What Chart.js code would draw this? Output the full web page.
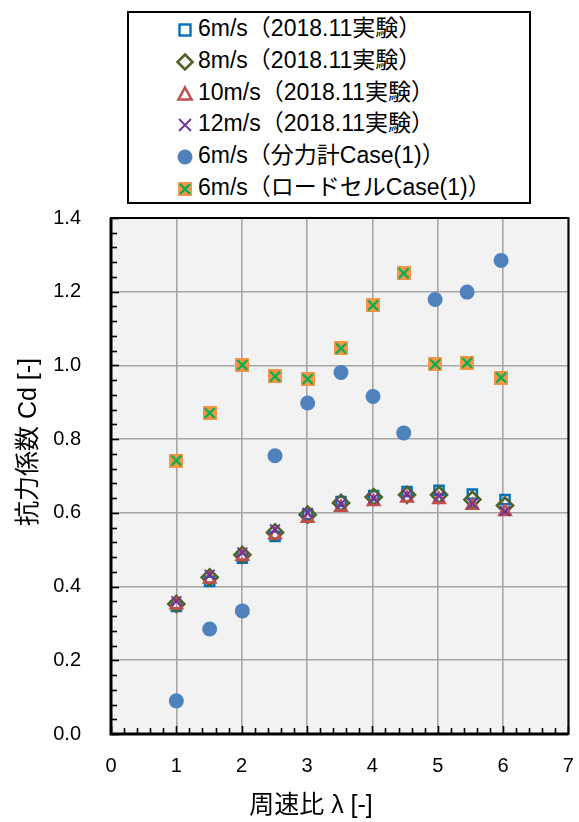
<!DOCTYPE html>
<html><head><meta charset="utf-8">
<script src="https://cdn.jsdelivr.net/npm/chart.js@4.4.1/dist/chart.umd.min.js"></script>
<style>
html,body{margin:0;padding:0;background:#fff;}
#wrap{position:relative;width:579px;height:822px;}
#c{position:absolute;left:0;top:0;}
#legend{position:absolute;left:127px;top:11px;width:400px;height:189px;border:2px solid #000;background:#fff;}
.row{position:absolute;left:0;height:30px;line-height:30px;font-family:"Liberation Sans","Noto Sans CJK JP",sans-serif;font-size:23px;color:#000;white-space:nowrap;}
.row canvas{position:absolute;left:46px;top:7px;}
.row span{position:absolute;left:69px;top:0;}
</style></head>
<body><div id="wrap"><canvas id="c" width="579" height="822"></canvas><div id="legend"></div></div>
<script>
// ---- data ----
const lamExp = [1.0,1.51,2.01,2.51,3.01,3.52,4.02,4.53,5.02,5.53,6.03];
const cd6  = [0.346,0.414,0.477,0.536,0.595,0.631,0.647,0.658,0.661,0.651,0.636];
const cd8  = [0.353,0.425,0.486,0.547,0.595,0.627,0.643,0.649,0.649,0.636,0.620];
const cd10 = [0.350,0.420,0.482,0.540,0.585,0.615,0.630,0.640,0.636,0.620,0.603];
const cd12 = [0.360,0.432,0.492,0.555,0.600,0.625,0.640,0.650,0.645,0.625,0.605];
const lamCase = [1.0,1.51,2.01,2.51,3.01,3.52,4.01,4.48,4.96,5.45,5.97];
const cdForce = [0.090,0.285,0.334,0.755,0.898,0.981,0.916,0.817,1.179,1.199,1.285];
const cdLoad  = [0.742,0.871,1.001,0.970,0.963,1.046,1.163,1.250,1.003,1.007,0.967];
const labels = ['6m/s（2018.11実験）','8m/s（2018.11実験）','10m/s（2018.11実験）','12m/s（2018.11実験）','6m/s（分力計Case(1)）','6m/s（ロードセルCase(1)）'];
const xTitle = '周速比 λ [-]';
const yTitle = '抗力係数 Cd [-]';

function loadIcon(s){
  const cv=document.createElement('canvas');cv.width=s;cv.height=s;
  const g=cv.getContext('2d');
  g.fillStyle='#F79646';g.fillRect(0,0,s,s);
  g.strokeStyle='#00B050';g.lineWidth=2.4;
  g.beginPath();g.moveTo(2,2);g.lineTo(s-2,s-2);g.moveTo(s-2,2);g.lineTo(2,s-2);g.stroke();
  return cv;
}
const loadImg = loadIcon(14);
const pts=(xs,ys)=>xs.map((x,i)=>({x:x,y:ys[i]}));

const datasets=[
 {label:labels[0],data:pts(lamExp,cd6),pointStyle:'rect',radius:6.5,borderColor:'#0070C0',backgroundColor:'rgba(0,0,0,0)',borderWidth:2.4,order:4},
 {label:labels[1],data:pts(lamExp,cd8),pointStyle:'rectRot',radius:8,borderColor:'#4F6228',backgroundColor:'rgba(0,0,0,0)',borderWidth:2.6,order:3},
 {label:labels[2],data:pts(lamExp,cd10),pointStyle:'triangle',radius:6.5,borderColor:'#C0504D',backgroundColor:'rgba(0,0,0,0)',borderWidth:2.6,order:2},
 {label:labels[3],data:pts(lamExp,cd12),pointStyle:'crossRot',radius:7,borderColor:'#7030A0',backgroundColor:'#7030A0',borderWidth:1.8,order:1},
 {label:labels[4],data:pts(lamCase,cdForce),pointStyle:'circle',radius:7.5,borderColor:'#4F81BD',backgroundColor:'#4F81BD',borderWidth:0,order:5},
 {label:labels[5],data:pts(lamCase,cdLoad),pointStyle:loadImg,radius:7,borderColor:'#00B050',backgroundColor:'#F79646',order:6}
];

const FONT='"Liberation Sans","Noto Sans CJK JP",sans-serif';

const framePlugin={
 id:'frame',
 beforeDraw(chart){
  const {ctx,chartArea:a}=chart;
  ctx.save();ctx.fillStyle='#F2F2F2';ctx.fillRect(a.left,a.top,a.right-a.left,a.bottom-a.top);ctx.restore();
 },
 afterDraw(chart){
  const {ctx,chartArea:a,scales}=chart;
  const y=scales.y,x=scales.x;
  ctx.save();
  ctx.strokeStyle='#000';
  ctx.lineWidth=1.6;
  for(let k=0;k<=35;k++){
    const v=k*0.04;const py=Math.round(y.getPixelForValue(v))+0.5;
    const len=(k%5===0)?8:6;
    ctx.beginPath();ctx.moveTo(a.left,py);ctx.lineTo(a.left+len,py);ctx.stroke();
  }
  for(let k=0;k<=35;k++){
    const v=k*0.2;const px=Math.round(x.getPixelForValue(v))+0.5;
    const len=(k%5===0)?8:6;
    ctx.beginPath();ctx.moveTo(px,a.bottom);ctx.lineTo(px,a.bottom-len);ctx.stroke();
  }
  ctx.lineWidth=2;
  ctx.strokeRect(a.left,a.top,a.right-a.left,a.bottom-a.top);
  ctx.lineWidth=3;
  ctx.beginPath();ctx.moveTo(a.left,a.top);ctx.lineTo(a.left,a.bottom);ctx.lineTo(a.right,a.bottom);ctx.stroke();
  ctx.fillStyle='#000';
  ctx.font='25px '+FONT;
  ctx.textAlign='center';ctx.textBaseline='middle';
  ctx.fillText(xTitle,311,806);
  ctx.translate(29,442);ctx.rotate(-Math.PI/2);
  ctx.fillText(yTitle,0,0);
  ctx.restore();
 }
};

new Chart(document.getElementById('c'),{
 type:'scatter',
 data:{datasets:datasets},
 options:{
  responsive:false,animation:false,
  layout:{padding:{top:218,right:9,left:0,bottom:0}},
  plugins:{legend:{display:false},tooltip:{enabled:false}},
  elements:{point:{hoverRadius:0}},
  scales:{
   x:{type:'linear',min:0,max:7,
      ticks:{stepSize:1,font:{size:20,family:FONT},color:'#000',padding:20,maxRotation:0},
      grid:{color:'#A6A6A6',lineWidth:1.6,drawTicks:false},
      border:{display:false},
      afterFit(s){s.height=88;s.paddingRight=0;s.paddingLeft=0;}},
   y:{type:'linear',min:0,max:1.4,
      ticks:{stepSize:0.2,font:{size:20,family:FONT},color:'#000',padding:30,callback:v=>Number(v).toFixed(1)},
      grid:{color:'#A6A6A6',lineWidth:1.6,drawTicks:false},
      border:{display:false},
      afterFit(s){s.width=111;s.paddingTop=0;s.paddingBottom=0;}}
  }
 },
 plugins:[framePlugin]
});

const lg=document.getElementById('legend');
function drawIcon(g,i){
  const c=10;
  g.clearRect(0,0,20,20);
  if(i===0){g.strokeStyle='#0070C0';g.lineWidth=2.4;g.strokeRect(4.5,4.5,11,11);}
  else if(i===1){g.strokeStyle='#4F6228';g.lineWidth=2.6;g.beginPath();g.moveTo(c,2.5);g.lineTo(17.5,c);g.lineTo(c,17.5);g.lineTo(2.5,c);g.closePath();g.stroke();}
  else if(i===2){g.strokeStyle='#C0504D';g.lineWidth=2.6;g.beginPath();g.moveTo(c,3.5);g.lineTo(16.5,15.5);g.lineTo(3.5,15.5);g.closePath();g.stroke();}
  else if(i===3){g.strokeStyle='#7030A0';g.lineWidth=1.8;g.beginPath();g.moveTo(4,4);g.lineTo(16,16);g.moveTo(16,4);g.lineTo(4,16);g.stroke();}
  else if(i===4){g.fillStyle='#4F81BD';g.beginPath();g.arc(c,c,7.5,0,Math.PI*2);g.fill();}
  else {g.drawImage(loadIcon(14),3,3);}
}
labels.forEach((t,i)=>{
  const r=document.createElement('div');r.className='row';
  r.style.top=(28+i*31.8-13-15)+'px';
  const cv=document.createElement('canvas');cv.width=20;cv.height=20;
  drawIcon(cv.getContext('2d'),i);
  const sp=document.createElement('span');sp.textContent=t;
  r.appendChild(cv);r.appendChild(sp);lg.appendChild(r);
});
</script></body></html>
